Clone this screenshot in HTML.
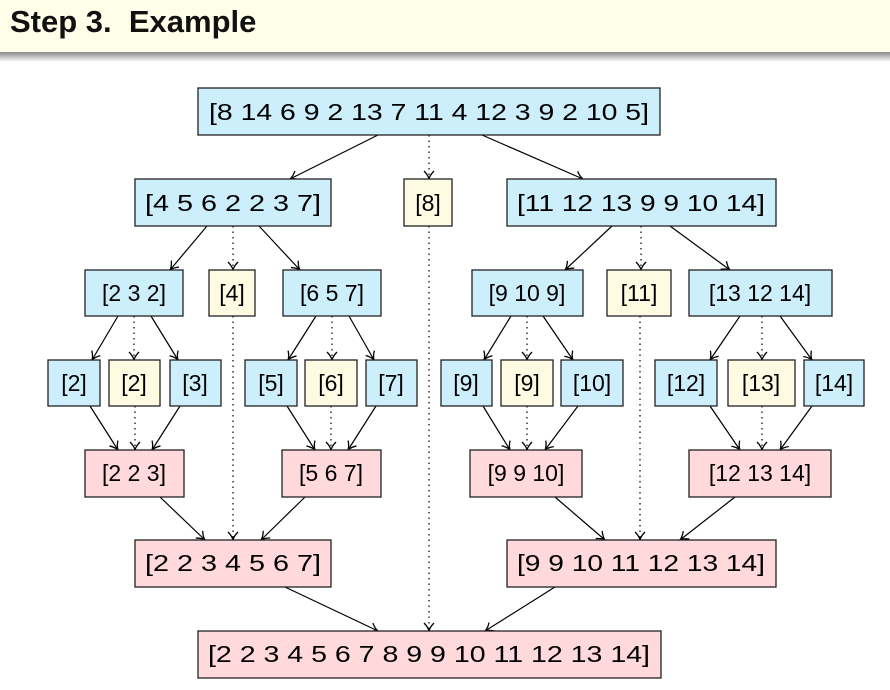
<!DOCTYPE html>
<html><head><meta charset="utf-8"><style>
body{margin:0;width:890px;height:690px;background:#fff;overflow:hidden;font-family:"Liberation Sans",sans-serif}
.hd{position:absolute;left:0;top:0;width:890px;height:52px;background:#fffee9}
.sh{position:absolute;left:0;top:52px;width:890px;height:10px;background:linear-gradient(#8a8a8a,#fff)}
.t{position:absolute;left:10px;top:4px;font-size:31px;font-weight:bold;color:#111}
svg{position:absolute;left:0;top:0}
</style></head><body>
<div class="hd"></div><div class="sh"></div><div class="t">Step 3.&nbsp; Example</div>
<svg width="890" height="690" font-family="Liberation Sans, sans-serif" font-size="23">
<defs><marker id="a" markerWidth="12" markerHeight="12" refX="10" refY="6" orient="auto" markerUnits="userSpaceOnUse"><path d="M2,1 Q6,5 10,6 Q6,7 2,11" fill="none" stroke="#000" stroke-width="1.3"/></marker></defs>
<g stroke="#000" stroke-width="1.2" marker-end="url(#a)">
<line x1="378" y1="135" x2="290" y2="179"/><line x1="482" y1="135" x2="583" y2="179"/>
<line x1="207" y1="226" x2="170" y2="270"/><line x1="259" y1="226" x2="300" y2="270"/>
<line x1="612" y1="226" x2="565" y2="270"/><line x1="670" y1="226" x2="730" y2="270"/>
<line x1="118" y1="316" x2="92" y2="360"/><line x1="151" y1="316" x2="178" y2="360"/>
<line x1="316" y1="316" x2="288" y2="360"/><line x1="349" y1="316" x2="374" y2="360"/>
<line x1="511" y1="316" x2="484" y2="360"/><line x1="543" y1="316" x2="573" y2="360"/>
<line x1="740" y1="316" x2="710" y2="360"/><line x1="780" y1="316" x2="812" y2="360"/>
<line x1="90" y1="406" x2="118" y2="450"/><line x1="180" y1="406" x2="152" y2="450"/>
<line x1="287" y1="406" x2="315" y2="450"/><line x1="376" y1="406" x2="348" y2="450"/>
<line x1="483" y1="406" x2="510" y2="450"/><line x1="578" y1="406" x2="545" y2="450"/>
<line x1="710" y1="406" x2="740" y2="450"/><line x1="812" y1="406" x2="780" y2="450"/>
<line x1="160" y1="497" x2="205" y2="540"/><line x1="305" y1="497" x2="261" y2="540"/>
<line x1="555" y1="497" x2="605" y2="540"/><line x1="735" y1="497" x2="680" y2="540"/>
<line x1="285" y1="587" x2="378" y2="631"/><line x1="555" y1="587" x2="485" y2="631"/>
</g>
<g stroke="#000" stroke-width="1.2" stroke-dasharray="1.5,4" marker-end="url(#a)">
<line x1="429" y1="135" x2="429" y2="179"/><line x1="233" y1="226" x2="233" y2="270"/>
<line x1="429" y1="226" x2="429" y2="631"/><line x1="641" y1="226" x2="641" y2="270"/>
<line x1="134" y1="316" x2="134" y2="360"/><line x1="233" y1="316" x2="233" y2="540"/>
<line x1="332" y1="316" x2="332" y2="360"/><line x1="527" y1="316" x2="527" y2="360"/>
<line x1="640" y1="316" x2="640" y2="540"/><line x1="762" y1="316" x2="762" y2="360"/>
<line x1="135" y1="406" x2="135" y2="450"/><line x1="331" y1="406" x2="331" y2="450"/>
<line x1="527" y1="406" x2="527" y2="450"/><line x1="762" y1="406" x2="762" y2="450"/>
</g>
<g stroke="#222" stroke-width="1.3">
<!-- blue -->
<g fill="#cdeffb">
<rect x="198" y="88" width="462" height="47"/>
<rect x="135" y="179" width="196" height="47"/><rect x="507" y="179" width="269" height="47"/>
<rect x="85" y="270" width="98" height="46"/><rect x="283" y="270" width="98" height="46"/>
<rect x="472" y="270" width="111" height="46"/><rect x="689" y="270" width="143" height="46"/>
<rect x="48" y="360" width="52" height="46"/><rect x="170" y="360" width="51" height="46"/>
<rect x="245" y="360" width="52" height="46"/><rect x="366" y="360" width="51" height="46"/>
<rect x="441" y="360" width="51" height="46"/><rect x="561" y="360" width="62" height="46"/>
<rect x="655" y="360" width="62" height="46"/><rect x="804" y="360" width="60" height="46"/>
</g>
<g fill="#fffbe3">
<rect x="404" y="179" width="48" height="47"/>
<rect x="209" y="270" width="46" height="46"/><rect x="607" y="270" width="64" height="46"/>
<rect x="109" y="360" width="51" height="46"/><rect x="305" y="360" width="52" height="46"/>
<rect x="501" y="360" width="52" height="46"/><rect x="728" y="360" width="67" height="46"/>
</g>
<g fill="#ffd9dc">
<rect x="85" y="450" width="99" height="47"/><rect x="282" y="450" width="99" height="47"/>
<rect x="470" y="450" width="112" height="47"/><rect x="689" y="450" width="142" height="47"/>
<rect x="135" y="540" width="196" height="47"/><rect x="507" y="540" width="269" height="47"/>
<rect x="198" y="631" width="463" height="47"/>
</g>
</g>
<g fill="#000" text-anchor="middle">
<text x="429" y="120" textLength="440" lengthAdjust="spacingAndGlyphs">[8 14 6 9 2 13 7 11 4 12 3 9 2 10 5]</text>
<text x="233" y="211" textLength="176" lengthAdjust="spacingAndGlyphs">[4 5 6 2 2 3 7]</text>
<text x="428" y="211">[8]</text>
<text x="641" y="211" textLength="248" lengthAdjust="spacingAndGlyphs">[11 12 13 9 9 10 14]</text>
<text x="134" y="301">[2 3 2]</text><text x="232" y="301">[4]</text><text x="332" y="301">[6 5 7]</text>
<text x="527" y="301">[9 10 9]</text><text x="639" y="301">[11]</text><text x="760" y="301">[13 12 14]</text>
<text x="74" y="391">[2]</text><text x="134" y="391">[2]</text><text x="195" y="391">[3]</text>
<text x="271" y="391">[5]</text><text x="331" y="391">[6]</text><text x="391" y="391">[7]</text>
<text x="466" y="391">[9]</text><text x="527" y="391">[9]</text><text x="592" y="391">[10]</text>
<text x="686" y="391">[12]</text><text x="761" y="391">[13]</text><text x="834" y="391">[14]</text>
<text x="134" y="481">[2 2 3]</text><text x="331" y="481">[5 6 7]</text>
<text x="526" y="481">[9 9 10]</text><text x="760" y="481">[12 13 14]</text>
<text x="233" y="571" textLength="176" lengthAdjust="spacingAndGlyphs">[2 2 3 4 5 6 7]</text>
<text x="641" y="571" textLength="248" lengthAdjust="spacingAndGlyphs">[9 9 10 11 12 13 14]</text>
<text x="429" y="662" textLength="442" lengthAdjust="spacingAndGlyphs">[2 2 3 4 5 6 7 8 9 9 10 11 12 13 14]</text>
</g>
</svg>
</body></html>
